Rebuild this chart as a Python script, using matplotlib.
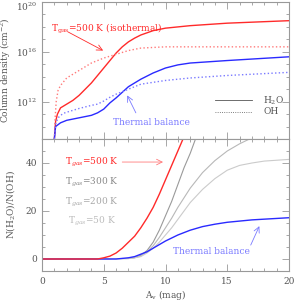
import numpy as np
import matplotlib
matplotlib.use('Agg')
import matplotlib.pyplot as plt
import matplotlib.transforms as mtrans
from matplotlib.ticker import FixedLocator, MultipleLocator, NullFormatter

plt.rcParams['font.family'] = 'DejaVu Serif'
plt.rcParams['mathtext.fontset'] = 'dejavuserif'

# --- top panel: log10 column densities vs A_v (mag) ---
av_h2o_iso = [1.0, 1.1, 1.25, 1.5, 2, 2.5, 3, 3.5, 4, 4.5, 5, 5.5, 6, 6.5, 7, 7.5, 8, 9, 10, 12, 15, 20]
h2o_iso = [9.0, 10.4, 11.0, 11.5, 11.8, 12.1, 12.5, 13.0, 13.5, 14.1, 14.7, 15.3, 15.9, 16.4, 16.8, 17.1, 17.35, 17.7, 17.9, 18.1, 18.3, 18.5]
av_oh_iso = [1.0, 1.05, 1.15, 1.3, 1.5, 2, 3, 4, 5, 6, 7, 8, 10, 15, 20]
oh_iso = [9.0, 10.5, 12.0, 12.9, 13.3, 13.9, 14.5, 15.1, 15.5, 15.8, 16.1, 16.3, 16.4, 16.4, 16.4]
av_h2o_tb = [1.0, 1.1, 1.5, 2, 3, 4, 4.5, 5, 5.5, 6, 6.5, 7, 8, 9, 10, 11, 12, 15, 20]
h2o_tb = [9.0, 10.0, 10.3, 10.5, 10.7, 10.9, 11.1, 11.4, 11.9, 12.3, 12.75, 13.2, 13.8, 14.3, 14.7, 14.95, 15.1, 15.3, 15.6]
av_oh_tb = [1.0, 1.1, 1.3, 1.7, 2, 3, 4, 4.5, 5, 5.5, 6, 7, 8, 10, 12, 15, 20]
oh_tb = [9.0, 10.2, 10.7, 11.05, 11.15, 11.45, 11.7, 11.8, 12.05, 12.35, 12.6, 13.0, 13.4, 13.7, 13.9, 14.1, 14.35]

# --- bottom panel: N(H2O)/N(OH) vs A_v ---
av_r500 = [0, 4.5, 5, 5.5, 6, 6.5, 7, 7.5, 8, 8.5, 9, 9.5, 10, 10.5, 11, 11.5]
r500 = [0, 0, 0.5, 1.2, 2.5, 4.5, 7, 9.5, 13, 17, 21.5, 27, 33, 39, 45, 51]
av_r300 = [0, 7, 7.5, 8, 8.5, 9, 9.5, 10, 10.5, 11, 11.5, 12, 12.5]
r300 = [0, 0.2, 0.6, 1.5, 3.5, 7, 12, 18, 24, 31, 38, 44, 51]
av_r200 = [0, 7, 7.5, 8, 8.5, 9, 9.5, 10, 10.5, 11, 11.5, 12, 13, 14, 15, 16, 17]
r200 = [0, 0.2, 0.5, 1.2, 3, 5.5, 9, 13, 17, 21.5, 25.5, 29.5, 36, 41, 45, 48, 50.5]
av_r50 = [0, 7, 7.5, 8, 8.5, 9, 9.5, 10, 10.5, 11, 11.5, 12, 13, 14, 15, 16, 17, 18, 20]
r50 = [0, 0.2, 0.5, 1, 2.5, 4.5, 7, 10, 13, 16.5, 20, 23.5, 29, 33.5, 37, 39, 40, 40.8, 41.5]
av_rtb = [0, 6, 7, 7.5, 8, 8.5, 9, 9.5, 10, 11, 12, 13, 14, 15, 17, 20]
rtb = [0, 0, 0.5, 1, 2, 3, 4.5, 6, 7.5, 10, 12, 13.5, 14.5, 15.3, 16.3, 17.2]

RED = '#ff2a2a'
BLUE = '#2a2aff'
RED_L = '#ff7a7a'
BLUE_L = '#7a7aff'
G300, G200, G50 = '#9a9a9a', '#b8b8b8', '#cbcbcb'
AXC = '#999999'
TXT = '#555555'
FS = 6.5

fig = plt.figure(figsize=(2.95, 3.03), dpi=100)
ax1 = fig.add_axes([42/295, 1 - 139/303, 247/295, 137/303])
ax2 = fig.add_axes([42/295, 1 - 271/303, 247/295, 132/303])

ax1.plot(av_h2o_iso, 10**np.array(h2o_iso), color=RED, lw=1.0)
ax1.plot(av_oh_iso, 10**np.array(oh_iso), color=RED_L, lw=1.0, ls=':')
ax1.plot(av_h2o_tb, 10**np.array(h2o_tb), color=BLUE, lw=1.0)
ax1.plot(av_oh_tb, 10**np.array(oh_tb), color=BLUE_L, lw=1.0, ls=':')
ax1.set_yscale('log')
ax1.set_xlim(0, 20)
ax1.set_ylim(1e9, 1e20)
ax1.yaxis.set_major_locator(FixedLocator([1e12, 1e16, 1e20]))
ax1.yaxis.set_minor_locator(FixedLocator([10.0**k for k in range(9, 21)]))
ax1.yaxis.set_minor_formatter(NullFormatter())
ax1.set_ylabel('Column density (cm$^{-2}$)', fontsize=FS, color=TXT, labelpad=2)
ax1.tick_params(labelbottom=False)

ax1.text(0.7, 10**17.8, r'T$_{\rm gas}$=500 K (isothermal)', color=RED, fontsize=FS, va='center')
ax1.annotate('', xy=(4.95, 10**16.1), xytext=(2.1, 10**17.6),
             arrowprops=dict(arrowstyle='->', color=RED, lw=0.6, shrinkA=0, shrinkB=0))
ax1.text(5.75, 10**10.3, 'Thermal balance', color=BLUE_L, fontsize=FS, va='center')
ax1.annotate('', xy=(6.9, 10**12.5), xytext=(7.6, 10**11.1),
             arrowprops=dict(arrowstyle='->', color=BLUE_L, lw=0.6, shrinkA=0, shrinkB=0))
ax1.plot([14.0, 17.0], [10**12.1, 10**12.1], color=TXT, lw=0.6)
ax1.plot([14.0, 17.0], [10**11.2, 10**11.2], color=TXT, lw=0.6, ls=':')
ax1.text(17.9, 10**12.1, 'H$_2$O', color=TXT, fontsize=FS, va='center')
ax1.text(17.9, 10**11.2, 'OH', color=TXT, fontsize=FS, va='center')

ax2.plot(av_r300, r300, color=G300, lw=0.8)
ax2.plot(av_r200, r200, color=G200, lw=0.8)
ax2.plot(av_r50, r50, color=G50, lw=0.8)
ax2.plot(av_rtb, rtb, color=BLUE, lw=1.0)
ax2.plot(av_r500, r500, color=RED, lw=1.0)
ax2.set_xlim(0, 20)
ax2.set_ylim(-5, 50)
ax2.yaxis.set_major_locator(FixedLocator([0, 20, 40]))
ax2.yaxis.set_minor_locator(MultipleLocator(5))
ax2.set_ylabel('N(H$_2$O)/N(OH)', fontsize=FS, color=TXT, labelpad=6)
ax2.set_xlabel('A$_{\\rm v}$ (mag)', fontsize=FS, color=TXT, labelpad=2)

ax2.text(1.85, 40.4, r'T$_{gas}$=500 K', color=RED, fontsize=FS, va='center')
ax2.annotate('', xy=(9.8, 40.4), xytext=(6.5, 40.4),
             arrowprops=dict(arrowstyle='->', color=RED_L, lw=0.6, shrinkA=0, shrinkB=0))
ax2.text(1.85, 32, r'T$_{gas}$=300 K', color='#8a8a8a', fontsize=FS, va='center')
ax2.text(1.85, 23.7, r'T$_{gas}$=200 K', color='#a8a8a8', fontsize=FS, va='center')
ax2.text(2.1, 15.8, r'T$_{gas}$=50 K', color='#bcbcbc', fontsize=FS, va='center')
ax2.text(10.6, 3.0, 'Thermal balance', color=BLUE_L, fontsize=FS, va='center')
ax2.annotate('', xy=(17.6, 13.7), xytext=(16.9, 5.8),
             arrowprops=dict(arrowstyle='->', color=BLUE_L, lw=0.6, shrinkA=0, shrinkB=0))

for ax in (ax1, ax2):
    ax.xaxis.set_major_locator(MultipleLocator(5))
    ax.xaxis.set_minor_locator(MultipleLocator(1))
    ax.tick_params(which='both', direction='in', top=True, right=True,
                   colors=AXC, labelcolor=TXT, labelsize=FS, width=0.6)
    ax.tick_params(which='major', length=5)
    ax.tick_params(which='minor', length=2.5)
    for s in ax.spines.values():
        s.set_color(AXC)
        s.set_linewidth(0.8)
ax2.tick_params(axis='x', pad=4)

# nudge the topmost label (10^20) down so it stays inside the figure
fig.canvas.draw()
top_lab = ax1.yaxis.get_majorticklabels()[-1]
top_lab.set_transform(top_lab.get_transform() +
                      mtrans.ScaledTranslation(0, -3/72, fig.dpi_scale_trans))

fig.savefig('out.png', dpi=100)
